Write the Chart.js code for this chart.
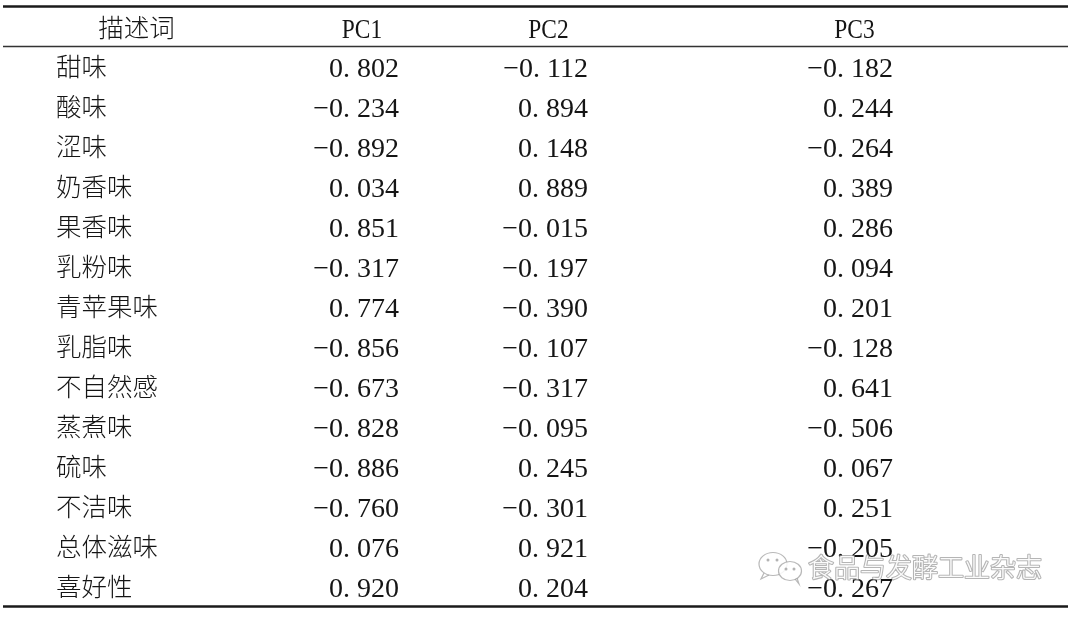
<!DOCTYPE html>
<html>
<head>
<meta charset="utf-8">
<script src="https://cdn.jsdelivr.net/npm/chart.js@4/dist/chart.umd.min.js"></script>
<style>
  html, body { margin: 0; padding: 0; background: #ffffff; }
  #wrap { width: 1080px; height: 617px; position: relative; background: #ffffff; }
</style>
</head>
<body>
<div id="wrap"><canvas id="c" width="1080" height="617"></canvas></div>
<script>
// ---- data ----
const headerLabel = '描述词';
const columns = ['PC1', 'PC2', 'PC3'];
const descriptors = ['甜味', '酸味', '涩味', '奶香味', '果香味', '乳粉味', '青苹果味', '乳脂味', '不自然感', '蒸煮味', '硫味', '不洁味', '总体滋味', '喜好性'];
const pc1 = [0.802, -0.234, -0.892, 0.034, 0.851, -0.317, 0.774, -0.856, -0.673, -0.828, -0.886, -0.760, 0.076, 0.920];
const pc2 = [-0.112, 0.894, 0.148, 0.889, -0.015, -0.197, -0.390, -0.107, -0.317, -0.095, 0.245, -0.301, 0.921, 0.204];
const pc3 = [-0.182, 0.244, -0.264, 0.389, 0.286, 0.094, 0.201, -0.128, 0.641, -0.506, 0.067, 0.251, -0.205, -0.267];
const watermark = '食品与发酵工业杂志';

// ---- layout (x positions in the x-scale's units) ----
const HEADER_KEY = '__header__';
const layout = {
  labelLeft: 56,
  headerCenters: [136.5, 362, 548.5, 854.5],
  valueRight: [399, 588, 893],
  lineLeft: 3,
  lineRight: 1068
};
const series = [pc1, pc2, pc3];

function fmt(v) {
  return v.toFixed(3).replace('-', '\u2212').replace('.', '. ');
}

const datasets = [];
datasets.push({
  label: 'desc', kind: 'desc',
  data: descriptors.map(d => ({ x: layout.labelLeft, y: d })),
  texts: descriptors
});
datasets.push({
  label: 'header', kind: 'header',
  data: [headerLabel].concat(columns).map((c, i) => ({ x: layout.headerCenters[i], y: HEADER_KEY })),
  texts: [headerLabel].concat(columns)
});
series.forEach((s, ci) => {
  datasets.push({
    label: columns[ci], kind: 'value',
    data: s.map((v, ri) => ({ x: layout.valueRight[ci], y: descriptors[ri] })),
    texts: s.map(fmt)
  });
});
datasets.forEach(d => { d.pointRadius = 0; d.pointHoverRadius = 0; d.showLine = false; });

const CJK = '"Noto Sans CJK SC", "Noto Sans CJK JP", sans-serif';
const SERIF = '"Liberation Serif", "DejaVu Serif", serif';

const tablePlugin = {
  id: 'tablePlugin',
  afterDatasetsDraw(chart) {
    const ctx = chart.ctx;
    const ys = chart.scales.y;
    const xs = chart.scales.x;
    const ca = chart.chartArea;
    ctx.save();
    const x0 = xs.getPixelForValue(layout.lineLeft);
    const x1 = xs.getPixelForValue(layout.lineRight);
    const yHead = ys.getPixelForValue(0);
    const yFirst = ys.getPixelForValue(1);
    const sep = (yHead + yFirst) / 2;
    ctx.strokeStyle = '#1a1a1a';
    ctx.lineWidth = 2.6;
    ctx.beginPath(); ctx.moveTo(x0, ca.top - 0.5); ctx.lineTo(x1, ca.top - 0.5); ctx.stroke();
    ctx.beginPath(); ctx.moveTo(x0, ca.bottom - 0.5); ctx.lineTo(x1, ca.bottom - 0.5); ctx.stroke();
    ctx.lineWidth = 1.5;
    ctx.strokeStyle = '#333';
    ctx.beginPath(); ctx.moveTo(x0, sep - 0.5); ctx.lineTo(x1, sep - 0.5); ctx.stroke();

    ctx.fillStyle = '#151515';
    chart.data.datasets.forEach((ds, di) => {
      const meta = chart.getDatasetMeta(di);
      meta.data.forEach((el, i) => {
        const t = ds.texts[i];
        if (ds.kind === 'desc') {
          ctx.font = '300 25.5px ' + CJK;
          ctx.textAlign = 'left';
          ctx.textBaseline = 'middle';
          ctx.fillText(t, el.x, el.y - 1);
        } else if (ds.kind === 'header') {
          ctx.textAlign = 'center';
          if (i === 0) {
            ctx.font = '300 25.5px ' + CJK;
            ctx.textBaseline = 'middle';
            ctx.fillText(t, el.x, el.y);
          } else {
            ctx.font = '26px ' + SERIF;
            ctx.textBaseline = 'alphabetic';
            ctx.save();
            ctx.translate(el.x, el.y + 11);
            ctx.scale(0.9, 1.04);
            ctx.fillText(t, 0, 0);
            ctx.restore();
          }
        } else {
          ctx.font = '28px ' + SERIF;
          ctx.textAlign = 'right';
          ctx.textBaseline = 'alphabetic';
          ctx.fillText(t, el.x, el.y + 10);
        }
      });
    });
    ctx.restore();
  },
  afterDraw(chart) {
    const ctx = chart.ctx;
    ctx.save();
    const cy = 567;
    ctx.strokeStyle = 'rgba(160,160,160,0.75)';
    ctx.fillStyle = 'rgba(255,255,255,0.85)';
    ctx.lineWidth = 1.2;
    ctx.beginPath();
    ctx.ellipse(773, cy - 3, 14, 11.5, 0, 0, Math.PI * 2);
    ctx.fill(); ctx.stroke();
    ctx.beginPath();
    ctx.moveTo(764, cy + 6); ctx.lineTo(761, cy + 12); ctx.lineTo(769, cy + 8);
    ctx.stroke();
    ctx.beginPath();
    ctx.ellipse(790, cy + 4, 11.5, 9.5, 0, 0, Math.PI * 2);
    ctx.fill(); ctx.stroke();
    ctx.beginPath();
    ctx.moveTo(795, cy + 12); ctx.lineTo(799, cy + 17); ctx.lineTo(797, cy + 11);
    ctx.stroke();
    ctx.fillStyle = 'rgba(160,160,160,0.8)';
    [[768, cy - 7], [777, cy - 7], [786, cy + 2], [794, cy + 2]].forEach(p => {
      ctx.beginPath(); ctx.arc(p[0], p[1], 1.5, 0, Math.PI * 2); ctx.fill();
    });
    ctx.font = '300 26px ' + CJK;
    ctx.textAlign = 'left';
    ctx.textBaseline = 'middle';
    ctx.lineJoin = 'round';
    ctx.strokeStyle = 'rgba(150,150,150,0.7)';
    ctx.lineWidth = 2.2;
    ctx.strokeText(watermark, 808, cy);
    ctx.fillStyle = 'rgba(255,255,255,0.95)';
    ctx.fillText(watermark, 808, cy);
    ctx.restore();
  }
};

new Chart(document.getElementById('c'), {
  type: 'scatter',
  data: { datasets },
  options: {
    responsive: false,
    animation: false,
    events: [],
    layout: { padding: { top: 7, bottom: 10, left: 0, right: 0 } },
    plugins: { legend: { display: false }, tooltip: { enabled: false } },
    scales: {
      x: { type: 'linear', min: 0, max: 1080, display: false },
      y: { type: 'category', labels: [HEADER_KEY].concat(descriptors), offset: true, display: false }
    }
  },
  plugins: [tablePlugin]
});
</script>
</body>
</html>
